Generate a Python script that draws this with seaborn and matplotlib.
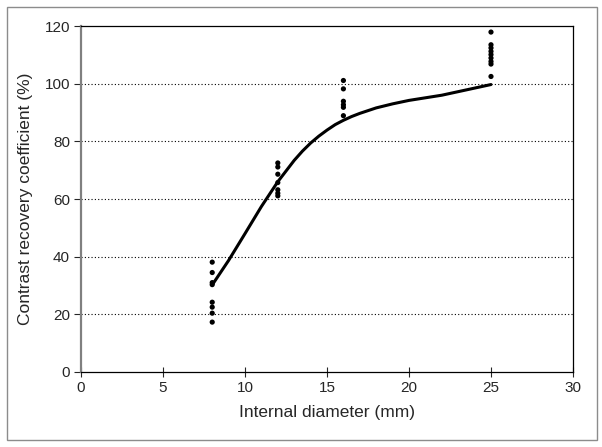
import numpy as np
import pandas as pd
import matplotlib
matplotlib.use('Agg')
import matplotlib.pyplot as plt
import seaborn as sns
from matplotlib.patches import Rectangle

sns.set_style('white')
plt.rcParams['font.family'] = ['Liberation Sans', 'DejaVu Sans']

# === 측정값 (점) ===
d8 = [38.1, 34.5, 31.0, 30.3, 24.2, 22.5, 20.4, 17.3]
d12 = [72.5, 71.1, 68.6, 65.7, 63.2, 62.0, 61.1]
d16 = [101.1, 98.2, 93.9, 92.7, 91.8, 88.9]
d25 = [117.9, 113.5, 112.4, 111.2, 110.1, 108.9, 107.7, 106.8, 102.5]
diameters = [8, 12, 16, 25]

# === 추세 곡선 ===
curve_x = [8, 9, 10, 11, 12, 13, 13.5, 14, 14.5, 15, 15.5, 16, 16.5, 17, 18, 19, 20, 22, 25]
curve_y = [30.2, 38.7, 48.0, 57.4, 66.0, 73.4, 76.6, 79.4, 81.8, 83.9, 85.8, 87.3, 88.6, 89.7, 91.6, 93.0, 94.2, 96.0, 99.7]

xticks = [0, 5, 10, 15, 20, 25, 30]
yticks = [0, 20, 40, 60, 80, 100, 120]

pts = pd.DataFrame({
    'diameter': np.concatenate([[d] * len(v) for d, v in zip(diameters, [d8, d12, d16, d25])]),
    'crc': d8 + d12 + d16 + d25,
})
curve = pd.DataFrame({'diameter': curve_x, 'crc': curve_y})

fig = plt.figure(figsize=(6.02, 4.47), dpi=100)
ax = fig.add_axes([0.1346, 0.1678, 0.8172, 0.774])

# 바깥 테두리
fig.patches.append(Rectangle((0.012, 0.016), 0.98, 0.968, transform=fig.transFigure,
                             fill=False, edgecolor='#8c8c8c', linewidth=1.0))

for yv in yticks[1:-1]:
    ax.axhline(yv, color='black', linestyle=(0, (1, 2)), linewidth=0.8, zorder=0)

sns.lineplot(data=curve, x='diameter', y='crc', color='black', linewidth=2.2,
             solid_joinstyle='round', ax=ax, zorder=2)
sns.scatterplot(data=pts, x='diameter', y='crc', color='black', s=14, edgecolor='none', ax=ax, zorder=3)

ax.set_xlim(0, 30)
ax.set_ylim(0, 120)
ax.set_xticks(xticks)
ax.set_yticks(yticks)
ax.tick_params(axis='x', direction='inout', length=7, width=0.8, labelsize=11, pad=3)
ax.tick_params(axis='y', direction='out', length=5, width=0.8, labelsize=11, pad=3)
ax.xaxis.set_ticks_position('bottom')
ax.yaxis.set_ticks_position('left')

ax.spines['left'].set_color('#808080')
ax.spines['left'].set_linewidth(1.6)
for s in ['bottom', 'top', 'right']:
    ax.spines[s].set_color('black')
    ax.spines[s].set_linewidth(0.9)

ax.set_xlabel('Internal diameter (mm)', fontsize=12.5, labelpad=7)
ax.set_ylabel('Contrast recovery coefficient (%)', fontsize=12.5, labelpad=8)

fig.savefig('out.png', dpi=100)
